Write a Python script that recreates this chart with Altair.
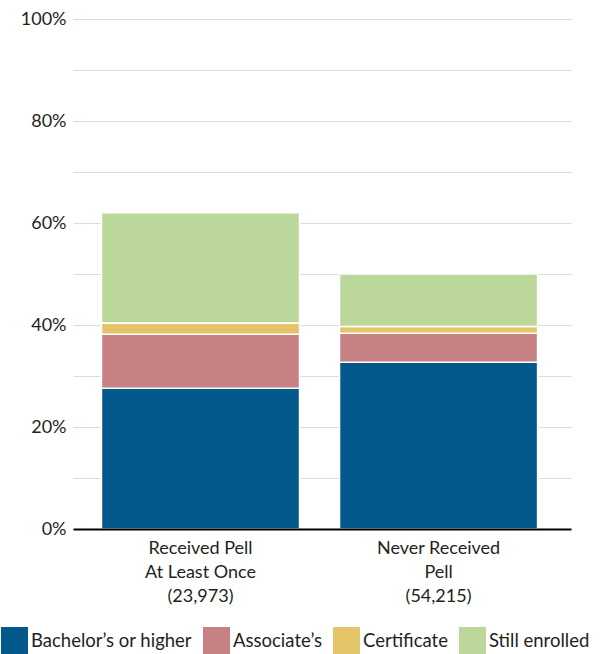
import altair as alt
import pandas as pd

# Completion outcomes by Pell grant status (share of students)
groups = ["Received Pell\nAt Least Once\n(23,973)", "Never Received\nPell\n(54,215)"]
outcomes = ["Bachelor\u2019s or higher", "Associate\u2019s", "Certificate", "Still enrolled"]
bachelor = [27.6, 32.7]
associate = [10.6, 5.7]
certificate = [2.2, 1.3]
still_enrolled = [21.6, 10.3]
colors = ["#03588C", "#C78184", "#E3C468", "#BBD89A"]

series = [bachelor, associate, certificate, still_enrolled]
rows = []
for i, g in enumerate(groups):
    for j, name in enumerate(outcomes):
        rows.append({"group": g, "outcome": name, "rank": j, "share": series[j][i] / 100})
df = pd.DataFrame(rows)

FONT = "Lato"
TEXT = "#231f20"

chart = (
    alt.Chart(df)
    .mark_bar(stroke="white", strokeWidth=1.5)
    .encode(
        x=alt.X(
            "group:N",
            sort=groups,
            title=None,
            scale=alt.Scale(paddingInner=0.168, paddingOuter=0.13, align=0.46),
            axis=alt.Axis(
                labelAngle=0,
                labelExpr="split(datum.label, '\\n')",
                ticks=False,
                domainColor="black",
                domainWidth=2,
                labelPadding=10,
                labelLineHeight=24,
                labelFontSize=18,
                zindex=1,
            ),
        ),
        y=alt.Y(
            "share:Q",
            stack="zero",
            title=None,
            scale=alt.Scale(domain=[0, 1], nice=False),
            axis=alt.Axis(
                values=[k / 10 for k in range(11)],
                format=".0%",
                labelExpr="round(datum.value * 10) % 2 == 0 ? datum.label : ''",
                domain=False,
                ticks=False,
                gridColor="#dcdcdc",
                gridWidth=1,
                labelPadding=7,
                labelFontSize=18,
            ),
        ),
        color=alt.Color(
            "outcome:N",
            sort=outcomes,
            scale=alt.Scale(domain=outcomes, range=colors),
            legend=alt.Legend(
                title=None,
                orient="none",
                direction="horizontal",
                legendX=-72,
                legendY=608,
                symbolType="square",
                symbolSize=729,
                symbolStrokeWidth=0,
                symbolOpacity=1,
                labelFontSize=18.5,
                labelLimit=300,
                labelOffset=3,
                columnPadding=11,
                padding=0,
            ),
        ),
        order=alt.Order("rank:Q"),
    )
    .properties(
        width=498,
        height=510,
        autosize=alt.AutoSizeParams(type="none"),
        padding={"left": 73, "top": 19, "right": 31, "bottom": 125},
    )
    .configure(font=FONT)
    .configure_axis(labelColor=TEXT, labelFont=FONT)
    .configure_legend(labelColor=TEXT, labelFont=FONT)
    .configure_view(stroke=None)
)

chart.save("out.html", embed_options={"renderer": "svg", "actions": False})
